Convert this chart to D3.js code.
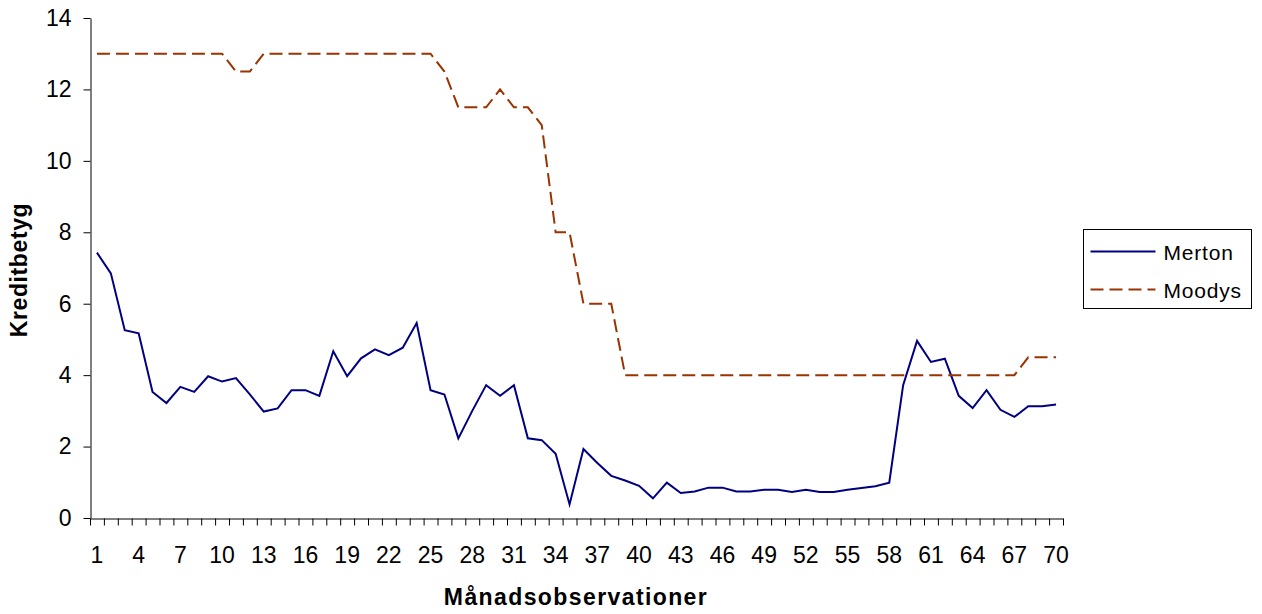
<!DOCTYPE html>
<html>
<head>
<meta charset="utf-8">
<script src="https://cdn.jsdelivr.net/npm/d3@7"></script>
<style>
  body { margin: 0; background: #fff; }
  svg text { font-family: "Liberation Sans", Arial, sans-serif; }
</style>
</head>
<body>
<svg id="chart" width="1262" height="614"></svg>
<script>
// monthly observations 1..70
const months = d3.range(1, 71);

const merton = [
  7.43, 6.85, 5.26, 5.17, 3.53, 3.22, 3.67, 3.53, 3.97, 3.82,
  3.92, 3.46, 2.98, 3.07, 3.58, 3.58, 3.42, 4.67, 3.97, 4.47,
  4.72, 4.56, 4.77, 5.46, 3.58, 3.46, 2.23, 3.00, 3.72, 3.42,
  3.72, 2.23, 2.18, 1.80, 0.38, 1.93, 1.54, 1.18, 1.05, 0.90,
  0.55, 0.99, 0.70, 0.74, 0.85, 0.85, 0.74, 0.74, 0.79, 0.79,
  0.73, 0.79, 0.73, 0.73, 0.79, 0.84, 0.89, 0.99, 3.72, 4.96,
  4.37, 4.46, 3.42, 3.08, 3.58, 3.03, 2.83, 3.13, 3.13, 3.18
];

const moodys = [
  13, 13, 13, 13, 13, 13, 13, 13, 13, 13,
  12.5, 12.5, 13, 13, 13, 13, 13, 13, 13, 13,
  13, 13, 13, 13, 13, 12.5, 11.5, 11.5, 11.5, 12,
  11.5, 11.5, 11, 8, 8, 6, 6, 6, 4, 4,
  4, 4, 4, 4, 4, 4, 4, 4, 4, 4,
  4, 4, 4, 4, 4, 4, 4, 4, 4, 4,
  4, 4, 4, 4, 4, 4, 4, 4.5, 4.5, 4.5
];

const yTicks = [0, 2, 4, 6, 8, 10, 12, 14];
const xLabels = months.filter(function(d){ return (d - 1) % 3 === 0; });

const series = [
  { name: "Merton", values: merton, color: "#000080", dash: null },
  { name: "Moodys", values: moodys, color: "#993300", dash: "13,6" }
];

const svg = d3.select("#chart");
const pLeft = 90, pRight = 1063, pTop = 18, pBottom = 518;

const x = d3.scaleBand().domain(months).range([pLeft, pRight]).padding(0);
const xEdge = d3.scaleLinear().domain([0, months.length]).range([pLeft, pRight]);
const y = d3.scaleLinear().domain([0, 14]).range([pBottom, pTop]);

// y axis
const yAxis = svg.append("g")
    .attr("transform", "translate(" + (pLeft + 0.5) + ",0)")
    .call(d3.axisLeft(y).tickValues(yTicks).tickSize(7).tickPadding(12).tickSizeOuter(0));
yAxis.select(".domain").attr("stroke", "#000");
yAxis.selectAll(".tick line").attr("stroke", "#000");
yAxis.selectAll("text").attr("font-size", 23).attr("fill", "#000");

// x axis tick marks between categories
const xTickAxis = svg.append("g")
    .attr("transform", "translate(0," + (pBottom + 0.5) + ")")
    .call(d3.axisBottom(xEdge).tickValues(d3.range(0, months.length + 1)).tickSize(7).tickFormat("").tickSizeOuter(0));
xTickAxis.select(".domain").attr("stroke", "#000");
xTickAxis.selectAll(".tick line").attr("stroke", "#000");

// x labels
const xLabAxis = svg.append("g")
    .attr("transform", "translate(0," + pBottom + ")")
    .call(d3.axisBottom(x).tickValues(xLabels).tickSize(0).tickPadding(29));
xLabAxis.select(".domain").remove();
xLabAxis.selectAll("text").attr("font-size", 23).attr("fill", "#000");

// lines
const line = function(vals){
  return d3.line()
    .x(function(d, i){ return x(months[i]) + x.bandwidth() / 2; })
    .y(function(d){ return y(d); })(vals);
};

series.forEach(function(s){
  svg.append("path")
    .attr("d", line(s.values))
    .attr("fill", "none")
    .attr("stroke", s.color)
    .attr("stroke-width", 2)
    .attr("stroke-dasharray", s.dash);
});

// axis titles
svg.append("text")
  .attr("x", 576)
  .attr("y", 605)
  .attr("text-anchor", "middle")
  .attr("font-size", 23)
  .attr("font-weight", "bold")
  .attr("letter-spacing", 1.4)
  .text("Månadsobservationer");

svg.append("text")
  .attr("transform", "translate(27,270) rotate(-90)")
  .attr("text-anchor", "middle")
  .attr("font-size", 23)
  .attr("font-weight", "bold")
  .attr("letter-spacing", 0.6)
  .text("Kreditbetyg");

// legend
const lg = svg.append("g").attr("transform", "translate(1083.5,229.5)");
lg.append("rect")
  .attr("width", 168).attr("height", 79)
  .attr("fill", "#fff").attr("stroke", "#000");
series.forEach(function(s, i){
  const cy = 22 + i * 38;
  lg.append("line")
    .attr("x1", 7).attr("x2", 72).attr("y1", cy).attr("y2", cy)
    .attr("stroke", s.color).attr("stroke-width", 2)
    .attr("stroke-dasharray", s.dash);
  lg.append("text")
    .attr("x", 80).attr("y", cy + 8)
    .attr("font-size", 21)
    .attr("letter-spacing", 0.8)
    .text(s.name);
});
</script>
</body>
</html>
